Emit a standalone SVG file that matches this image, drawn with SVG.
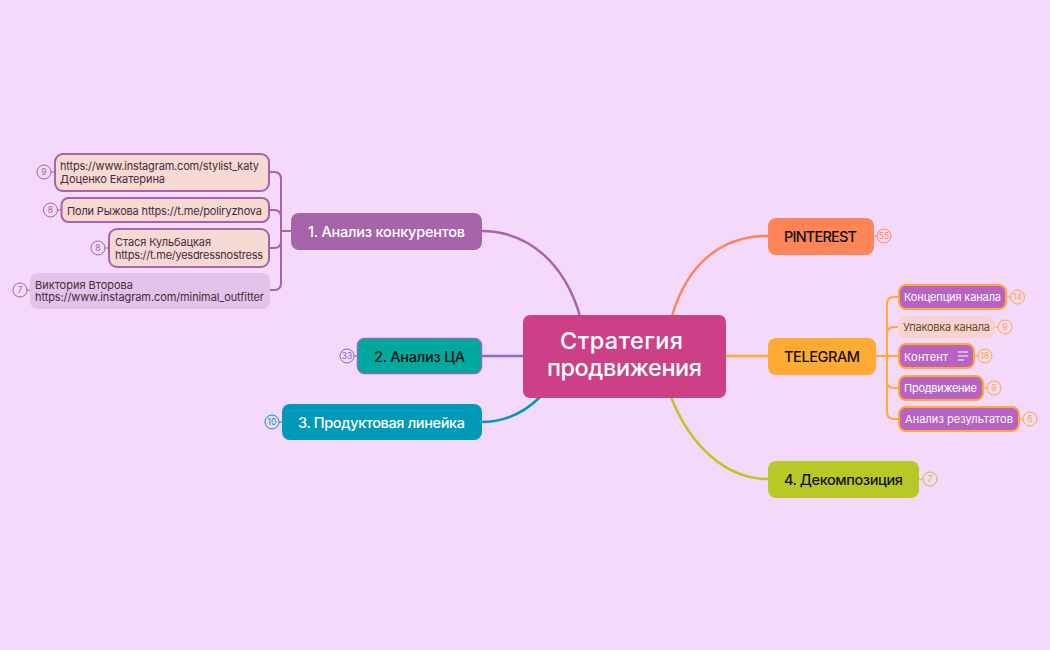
<svg xmlns="http://www.w3.org/2000/svg" width="1050" height="650" viewBox="0 0 1050 650">
<style>
text{font-family:"Inter","Noto Sans",sans-serif;dominant-baseline:central}
.c{fill:none;stroke-width:2.5}
.t{font-size:14.5px;font-weight:500}
.s{font-size:11px;fill:#4a2a3a}
.w{font-size:11px;fill:#fff}
.b{fill:#f4d9f9;stroke-width:1}
.n{font-size:8.5px;text-anchor:middle}
.r{font-size:23.5px;font-weight:500;fill:#fff}
.p{stroke:#a565a8}.o{stroke:#ffaa33}
</style>
<rect width="1050" height="650" fill="#f4d9fa"/>
<g id="connectors">
<path class="c" d="M580 316C565 265 530 231 481 231" stroke="#a565a8"/>
<path class="c" d="M523 356H481" stroke="#8a6cc4"/>
<path class="c" d="M540 397C525 412 505 422 481 422" stroke="#0099b8"/>
<path class="c" d="M672 316C687 265 720 236 768 236" stroke="#ff8457"/>
<path class="c" d="M726 356H768" stroke="#ffaa33"/>
<path class="c" d="M671 397C690 445 725 479 768 479" stroke="#b8c926"/>
<g fill="none" stroke-width="2">
<path class="p" d="M291 231H281M269 172H274Q281 172 281 179V283Q281 290 274 290H269M269 210H274Q281 210 281 217M269 248H274Q281 248 281 241"/>
<path class="o" d="M876 356H898M898 297H894Q887 297 887 304V412Q887 419 894 419H898M898 327H894Q887 327 887 334M898 388H894Q887 388 887 381"/>
</g>
</g>
<g id="root"><rect x="523" y="315" width="203" height="83" rx="7" fill="#cd4088"/><text class="r" x="560" y="340.500" textLength="123">Стратегия</text><text class="r" x="547" y="367.500" textLength="155">продвижения</text></g>
<g id="n1"><rect x="291" y="213" width="191" height="37" rx="8" fill="#a565a8"/><text class="t" x="308" y="231" fill="#fff" textLength="157">1. Анализ конкурентов</text></g>
<g id="n1a"><circle cx="44" cy="172" r="7" class="b p"/><path d="M51 172H54" class="p"/><text class="n" x="44" y="172" fill="#a565a8">9</text><rect x="55" y="154" width="214" height="37" rx="8" fill="#f6d9d3" stroke="#a565a8" stroke-width="2"/><text class="s" x="60" y="165.500" textLength="199">https://www.instagram.com/stylist_katy</text><text class="s" x="60" y="178.500" textLength="105">Доценко Екатерина</text></g>
<g id="n1b"><circle cx="50.500" cy="210" r="7" class="b p"/><path d="M57 210H61" class="p"/><text class="n" x="50.500" y="210" fill="#a565a8">8</text><rect x="61.500" y="198" width="207.500" height="24" rx="7" fill="#f6d9d3" stroke="#a565a8" stroke-width="2"/><text class="s" x="67" y="210.500" textLength="195">Поли Рыжова https://t.me/poliryzhova</text></g>
<g id="n1c"><circle cx="98" cy="248" r="7" class="b p"/><path d="M105 248H109" class="p"/><text class="n" x="98" y="248" fill="#a565a8">8</text><rect x="109" y="229" width="160" height="38" rx="8" fill="#f6d9d3" stroke="#a565a8" stroke-width="2"/><text class="s" x="115" y="241.500" textLength="96">Стася Кульбацкая</text><text class="s" x="115" y="254.500" textLength="148">https://t.me/yesdressnostress</text></g>
<g id="n1d"><circle cx="20" cy="290" r="7" class="b p"/><path d="M27 290H30" class="p"/><text class="n" x="20" y="290" fill="#a565a8">7</text><rect x="30" y="273" width="240" height="36" rx="8" fill="#e4c3ea"/><text class="s" x="35" y="284.500" textLength="98">Виктория Второва</text><text class="s" x="35" y="297" textLength="229">https://www.instagram.com/minimal_outfitter</text></g>
<g id="n2"><circle cx="347" cy="356" r="7" class="b" stroke="#8a6cc4"/><path d="M354 356H357" stroke="#8a6cc4"/><text class="n" x="347" y="356" fill="#8a6cc4">33</text><rect x="357.500" y="338.500" width="124" height="35" rx="7" fill="#00a99d" stroke="#8a6cc4" stroke-width="1.500"/><text class="t" x="374" y="356" fill="#111" textLength="91">2. Анализ ЦА</text></g>
<g id="n3"><circle cx="272" cy="422" r="7" class="b" stroke="#0099b8"/><path d="M279 422H282" stroke="#0099b8"/><text class="n" x="272" y="422" fill="#0099b8">10</text><rect x="282" y="404" width="200" height="36" rx="8" fill="#0099b8"/><text class="t" x="298" y="422" fill="#fff" textLength="167">3. Продуктовая линейка</text></g>
<g id="n4"><rect x="768" y="218" width="106" height="37" rx="8" fill="#ff8457"/><text class="t" x="784" y="236" fill="#111" textLength="73">PINTEREST</text><path d="M874 236H877" stroke="#ff8457"/><circle cx="884" cy="236" r="7" class="b" stroke="#ff8457"/><text class="n" x="884" y="236" fill="#ff8457">55</text></g>
<g id="n5"><rect x="768" y="338" width="108" height="37" rx="8" fill="#ffaa33"/><text class="t" x="784" y="356" fill="#111" textLength="76">TELEGRAM</text></g>
<g id="n6"><rect x="768" y="461" width="151" height="37" rx="8" fill="#b8c926"/><text class="t" x="784" y="479" fill="#111" textLength="119">4. Декомпозиция</text><path d="M919 479H923" stroke="#b8c926"/><circle cx="930" cy="479" r="7" class="b" stroke="#b8c926"/><text class="n" x="930" y="479" fill="#b8c926">7</text></g>
<g id="n5a"><rect x="899" y="285" width="107" height="24" rx="7" fill="#b862c4" stroke="#ffaa33" stroke-width="2"/><text class="w" x="904" y="297" textLength="97">Концепция канала</text><path d="M1007 297H1011" class="o"/><circle cx="1017.500" cy="297" r="7" class="b o"/><text class="n" x="1017.500" y="297" fill="#ffaa33">14</text></g>
<g id="n5b"><rect x="898" y="316" width="97" height="22" rx="7" fill="#f8d3d3"/><text class="s" style="fill:#6b4a20" x="903" y="327" textLength="87">Упаковка канала</text><path d="M995 327H999" class="o"/><circle cx="1005" cy="327" r="7" class="b o"/><text class="n" x="1005" y="327" fill="#ffaa33">9</text></g>
<g id="n5c"><rect x="899" y="344" width="75" height="24" rx="7" fill="#b862c4" stroke="#ffaa33" stroke-width="2"/><text class="w" x="904" y="356.500" textLength="44">Контент</text><path d="M958 352H968M958 356H968M958 360H964" stroke="#fff" stroke-width="1"/><path d="M975 356H979" class="o"/><circle cx="985" cy="356" r="7" class="b o"/><text class="n" x="985" y="356" fill="#ffaa33">18</text></g>
<g id="n5d"><rect x="899" y="376" width="84" height="24" rx="7" fill="#b862c4" stroke="#ffaa33" stroke-width="2"/><text class="w" x="904" y="388" textLength="73">Продвижение</text><path d="M984 388H988" class="o"/><circle cx="994" cy="388" r="7" class="b o"/><text class="n" x="994" y="388" fill="#ffaa33">9</text></g>
<g id="n5e"><rect x="899" y="407" width="120" height="24" rx="7" fill="#b862c4" stroke="#ffaa33" stroke-width="2"/><text class="w" x="905" y="419" textLength="108">Анализ результатов</text><path d="M1020 419H1024" class="o"/><circle cx="1030" cy="419" r="7" class="b o"/><text class="n" x="1030" y="419" fill="#ffaa33">6</text></g>
</svg>
